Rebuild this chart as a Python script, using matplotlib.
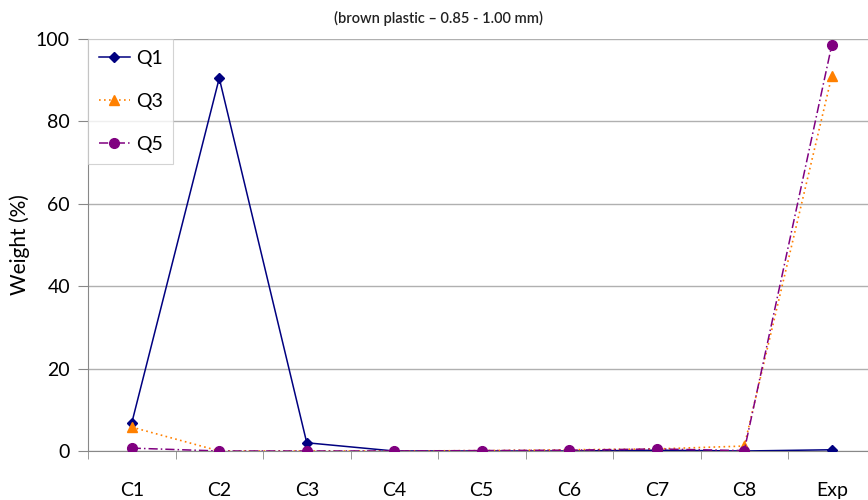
import matplotlib
matplotlib.use("Agg")
import matplotlib.pyplot as plt

categories = ["C1", "C2", "C3", "C4", "C5", "C6", "C7", "C8", "Exp"]
q1 = [6.8, 90.5, 2.0, 0.0, 0.0, 0.0, 0.2, 0.0, 0.3]
q3 = [5.8, 0.0, 0.0, 0.0, 0.1, 0.3, 0.5, 1.2, 91.0]
q5 = [0.7, 0.0, 0.0, 0.0, 0.1, 0.2, 0.5, 0.1, 98.5]
yticks = [0, 20, 40, 60, 80, 100]

plt.rcParams['font.family'] = ['Lato', 'DejaVu Sans']

fig = plt.figure(figsize=(8.68, 5.0), dpi=100)
W, H = 868, 500
left, right, top, bottom = 88, 875.5, 39, 451
ax = fig.add_axes([left / W, 1 - bottom / H, (right - left) / W, (bottom - top) / H])

x = list(range(len(categories)))
ax.plot(x, q1, color="#000080", lw=1.1, marker="D", ms=5.5, label="Q1", zorder=3)
ax.plot(x, q3, color="#FF8000", lw=1.2, ls=(0, (1, 2)), marker="^", ms=6.5, label="Q3", zorder=4)
ax.plot(x, q5, color="#800080", lw=1.1, ls=(0, (6, 2, 1, 2)), marker="o", ms=7, label="Q5", zorder=5)

ax.set_xlim(-0.5, len(categories) - 0.5)
ax.set_ylim(0, 100)
ax.set_yticks(yticks)
ax.set_yticklabels([str(v) for v in yticks], fontsize=14)
ax.set_xticks(x)
ax.set_xticklabels(categories, fontsize=14)
ax.set_xticks([i + 0.5 for i in range(-1, len(categories))], minor=True)
ax.tick_params(axis="x", which="major", length=0, pad=22)
ax.tick_params(axis="x", which="minor", length=6, color="#888888", direction="out")
ax.tick_params(axis="y", length=7, color="#888888", direction="out", pad=6)
ax.grid(axis="y", color="#b0b0b0", lw=1.0)
ax.set_axisbelow(True)
for s in ["top", "right"]:
    ax.spines[s].set_visible(False)
ax.spines["left"].set_color("#888888")
ax.spines["bottom"].set_color("#888888")
ax.set_ylabel("Weight (%)", fontsize=15)
ax.yaxis.set_label_coords((30 - left) / (right - left), 0.5)

leg = ax.legend(loc="upper left", bbox_to_anchor=(0, 1), borderaxespad=0, fontsize=14,
                frameon=True, fancybox=False, edgecolor="#c8c8c8", handlelength=1.6,
                labelspacing=1.35, handletextpad=0.3, borderpad=0.55)
leg.get_frame().set_linewidth(0.8)

fig.text(439 / W, 1 - 18 / H, "(brown plastic \u2013 0.85 - 1.00 mm)", fontsize=10.5,
         ha="center", va="center", color="#222222", fontweight="semibold")

fig.savefig("out.png", dpi=100)
